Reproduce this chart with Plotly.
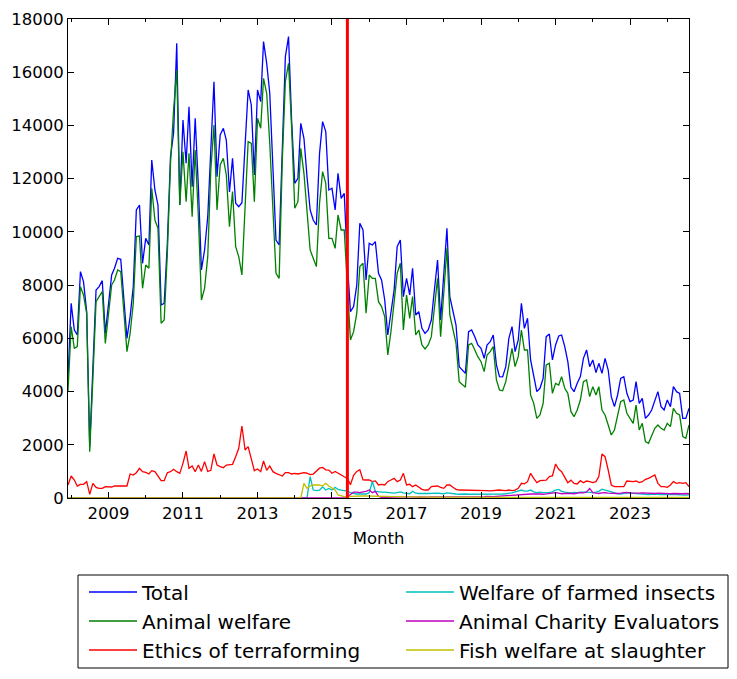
import pandas as pd
import plotly.graph_objects as go

months = pd.date_range("2007-12-01", "2024-08-01", freq="MS")

total = [4500, 7316, 6313, 6126, 8506, 8130, 7003, 1929, 4900, 7817,
         7942, 8167, 6188, 7253, 8380, 8631, 9006, 8969, 7441, 6000,
         6814, 7942, 10823, 11011, 8819, 9758, 9508, 12702, 11575, 11011,
         7253, 7316, 9570, 12827, 13704, 17087, 11011, 14205, 12577, 14706,
         11700, 14268, 11700, 8568, 9320, 10572, 13078, 15645, 12076, 13641,
         13892, 13453, 11500, 12764, 11074, 10948, 11099, 13241, 15333, 14769,
         12138, 15333, 14894, 17149, 16335, 15208, 12702, 9696, 9508, 13078,
         16585, 17337, 14200, 11826, 12013, 14080, 13516, 12076, 10823, 10447,
         10259, 12952, 14142, 13767, 11575, 11638, 10823, 12201, 11262, 11450,
         8819, 7003, 7191, 8000, 10322, 10071, 8192, 9570, 9508, 9633,
         8443, 8192, 7441, 6126, 6940, 7817, 9445, 9696, 7566, 8255,
         7629, 8631, 6877, 7003, 6376, 6188, 6313, 6689, 7817, 8944,
         6689, 8318, 10134, 7566, 7065, 6501, 4935, 4810, 4685, 6250,
         6313, 6063, 5750, 5625, 5249, 5750, 5875, 6126, 4998, 4560,
         4550, 4935, 6000, 6438, 5499, 5938, 7316, 6376, 6752, 5186,
         4622, 3996, 4122, 4497, 6063, 6163, 5186, 5750, 6088, 6126,
         5687, 5123, 4159, 3996, 4309, 4560, 5249, 5562, 4935, 5186,
         4710, 5061, 4685, 5249, 4810, 3808, 3432, 3871, 4497, 4560,
         3934, 3620, 3683, 4372, 3557, 3745, 2994, 3119, 3307, 3683,
         3996, 3432, 3307, 3683, 3432, 4184, 3996, 3934, 2994, 2994,
         3369]

animal_welfare = [4000, 6438, 5625, 5687, 7942, 7629, 6940, 1741, 4500, 7378,
                  7566, 7754, 5812, 6814, 8005, 8193, 8568, 8506, 7065, 5499,
                  6188, 7316, 9821, 9846, 7879, 8756, 8631, 11638, 10447, 10134,
                  6564, 6689, 9200, 12577, 14581, 16084, 11011, 13014, 11136, 12952,
                  10572, 13078, 10572, 7441, 7879, 9069, 12326, 14017, 10823, 12514,
                  12764, 12138, 10197, 11512, 9445, 9069, 8380, 10948, 13391, 13328,
                  11136, 14268, 13892, 15771, 15208, 13328, 10823, 8443, 8255, 12702,
                  15645, 16335, 13955, 10885, 11136, 13140, 12201, 10823, 9320, 9006,
                  8694, 11074, 12264, 11826, 9758, 9758, 9382, 10635, 10071, 10071,
                  8000, 5938, 6250, 6940, 8694, 8819, 6940, 8380, 8255, 8255,
                  7378, 7191, 6814, 5374, 6250, 7316, 8443, 8819, 6313, 7629,
                  6752, 7566, 6126, 6313, 5750, 5600, 5750, 6063, 7065, 8255,
                  6063, 7692, 9382, 6877, 6376, 5812, 4372, 4247, 4159, 5750,
                  5812, 5562, 5311, 5123, 4748, 5374, 5499, 5687, 4435, 4059,
                  4030, 4372, 5061, 5625, 4935, 5311, 6313, 5562, 5562, 3871,
                  3557, 2994, 3119, 3557, 4998, 5061, 3934, 4309, 4247, 4560,
                  4122, 3934, 3244, 3056, 3307, 3683, 4372, 4435, 3808, 4184,
                  3871, 4184, 3307, 3119, 2743, 2368, 2555, 3056, 3620, 3683,
                  3182, 2994, 2806, 3495, 2555, 2806, 2117, 2054, 2305, 2618,
                  2743, 2618, 2555, 2806, 2681, 3369, 3182, 3119, 2305, 2242,
                  2743]

ethics_terraforming = [488, 827, 676, 451, 514, 514, 614, 138, 551, 401,
                       363, 363, 426, 426, 413, 451, 451, 451, 451, 451,
                       902, 864, 952, 1115, 990, 965, 902, 1027, 990, 802,
                       651, 651, 952, 990, 1077, 990, 927, 1303, 1766, 1115,
                       1203, 990, 1240, 1000, 1366, 1002, 1040, 1654, 1240, 1178,
                       1140, 1240, 1265, 1265, 1553, 1867, 2706, 1804, 1929, 1428,
                       1027, 1090, 990, 1390, 1040, 1203, 990, 927, 890, 827,
                       952, 952, 902, 927, 902, 930, 950, 930, 880, 900,
                       1000, 1120, 1150, 1060, 1050, 930, 1000, 930, 850, 800,
                       740, 500, 850, 1000, 1060, 680, 676, 676, 614, 640,
                       489, 514, 489, 614, 676, 739, 614, 676, 927, 489,
                       514, 426, 489, 401, 326, 300, 300, 426, 451, 451,
                       401, 363, 489, 489, 401, 326, 300, 300, 290, 300,
                       300, 295, 290, 300, 290, 280, 270, 280, 300, 300,
                       290, 280, 300, 275, 300, 363, 551, 530, 614, 927,
                       739, 576, 651, 651, 670, 802, 830, 1278, 1077, 990,
                       777, 576, 670, 551, 526, 651, 576, 639, 614, 576,
                       614, 802, 1654, 1553, 1052, 489, 426, 426, 451, 426,
                       639, 614, 614, 639, 576, 614, 702, 739, 802, 864,
                       551, 426, 426, 400, 489, 614, 551, 576, 551, 576,
                       426]

farmed_insects = ([0] * 78 +
                  [800, 300, 280, 300, 420, 300, 360, 300, 400, 320,
                   300, 270, 260, 200, 170, 150, 150, 150, 150, 200,
                   620, 250, 230] +
                  [220, 220, 200, 200, 180, 200, 230, 190, 170, 160,
                   250, 180, 170, 160, 170, 170, 180, 190, 180, 170,
                   160, 190, 170, 150, 150, 140] +
                  [150, 150, 140, 140, 150, 140, 140, 130, 140, 150,
                   140, 130, 140, 150, 160, 170, 190,
                   230, 260, 300, 260, 260, 300, 230,
                   200, 220, 200, 200, 210, 230, 300, 320, 250, 220,
                   200, 190, 210, 200, 220, 230, 220, 210, 200, 220,
                   250, 330, 300, 250, 210,
                   180, 160, 150, 170, 190, 180, 170, 160, 150, 150,
                   140, 130, 140, 150, 140, 130, 120, 130, 140, 130,
                   120, 130, 120, 110, 120])

ace = ([0] * 90 +
       [50, 150, 220, 220, 200, 230, 250, 300, 200, 250, 60, 20] +
       [20, 30, 30, 40, 30, 30, 40, 50, 40, 30,
        30, 40, 30, 30, 30, 40, 40, 30, 30, 40,
        40, 50, 40, 40, 30, 30, 40, 40, 50, 40,
        40, 50, 50, 60, 50, 50, 60, 70, 60] +
       [80, 100, 100, 120, 110, 130, 150, 140, 150, 150,
        160, 150, 140, 150, 170, 190, 200, 180, 160, 170,
        180, 170, 160, 180, 200, 190, 230, 360, 200, 180,
        170, 190, 200, 180, 170, 160, 170, 180, 200, 210,
        190, 180, 170, 180, 190, 180, 170, 160, 170, 180,
        170, 160, 150, 160, 170, 160, 150, 160, 170, 160])

fish_slaughter = ([0] * 76 +
                  [550, 363, 451, 489, 489, 489, 451, 551, 450, 363,
                   301, 113, 75, 50, 25] +
                  [60, 70, 75, 75, 75, 75, 70, 70, 70, 65,
                   65, 60, 60, 60, 55, 55, 50, 50, 50, 45,
                   45, 40, 40] +
                  [30] * 40 + [20] * 47)

# (name, values, colour, legend column)
series = [
    ("Total", total, "#0000ff", "legend"),
    ("Animal welfare", animal_welfare, "#008000", "legend"),
    ("Ethics of terraforming", ethics_terraforming, "#ff0000", "legend"),
    ("Welfare of farmed insects", farmed_insects, "#00bfbf", "legend2"),
    ("Animal Charity Evaluators", ace, "#bf00bf", "legend2"),
    ("Fish welfare at slaughter", fish_slaughter, "#bfbf00", "legend2"),
]

marker_date = "2015-06-01"
year_ticks = ["2009", "2011", "2013", "2015", "2017", "2019", "2021", "2023"]
y_ticks = list(range(0, 18001, 2000))

W, H = 737, 679
L, R, T, B = 68, 48, 19, 181
pw, ph = W - L - R, H - T - B


def px_x(x):
    return (x - L) / pw


def px_y(y):
    return (H - B - y) / ph


fig = go.Figure()
for name, vals, color, leg in series:
    fig.add_trace(go.Scatter(x=months, y=vals, mode="lines", name=name,
                             line=dict(color=color, width=1.3), legend=leg))

fig.add_shape(type="line", xref="x", yref="paper", x0=marker_date, x1=marker_date,
              y0=0, y1=1, line=dict(color="#ff0000", width=3), layer="above")

# legend frame
fig.add_shape(type="rect", xref="paper", yref="paper",
              x0=px_x(78), x1=px_x(728), y0=px_y(668), y1=px_y(575),
              line=dict(color="black", width=1), fillcolor="rgba(0,0,0,0)")

font = "DejaVu Sans"
leg_common = dict(orientation="v", xanchor="left", yanchor="top",
                  borderwidth=0, bgcolor="rgba(0,0,0,0)",
                  font=dict(family=font, size=20, color="black"),
                  itemwidth=48, traceorder="normal")

fig.update_layout(
    width=W, height=H,
    margin=dict(l=L, r=R, t=T, b=B, autoexpand=False),
    paper_bgcolor="white", plot_bgcolor="white",
    font=dict(family=font, size=16.5, color="black"),
    showlegend=True,
    legend=dict(x=px_x(84), y=px_y(572.5), **leg_common),
    legend2=dict(x=px_x(401), y=px_y(572.5), **leg_common),
)
fig.update_xaxes(
    type="date", range=["2007-12-01", "2024-08-01"], automargin=False,
    tickmode="array", tickvals=[y + "-01-01" for y in year_ticks], ticktext=year_ticks,
    ticks="inside", ticklen=6, tickcolor="black",
    minor=dict(ticks="inside", dtick="M12", tick0="2008-01-01", ticklen=3,
               tickcolor="black", showgrid=False),
    showline=True, linecolor="black", linewidth=1, mirror="allticks",
    showgrid=False, zeroline=False,
    title=dict(text="Month", standoff=10, font=dict(size=16.5)),
    tickfont=dict(size=16.5),
)
fig.update_yaxes(
    range=[0, 18000], tickmode="array", tickvals=y_ticks, automargin=False,
    ticktext=[str(v) for v in y_ticks],
    ticks="inside", ticklen=6, tickcolor="black",
    showline=True, linecolor="black", linewidth=1, mirror="allticks",
    showgrid=False, zeroline=False, tickfont=dict(size=16.5),
)

fig.write_html("out.html",
               config={"displayModeBar": False},
               post_script="document.body.style.margin='0';document.body.style.overflow='hidden';")
